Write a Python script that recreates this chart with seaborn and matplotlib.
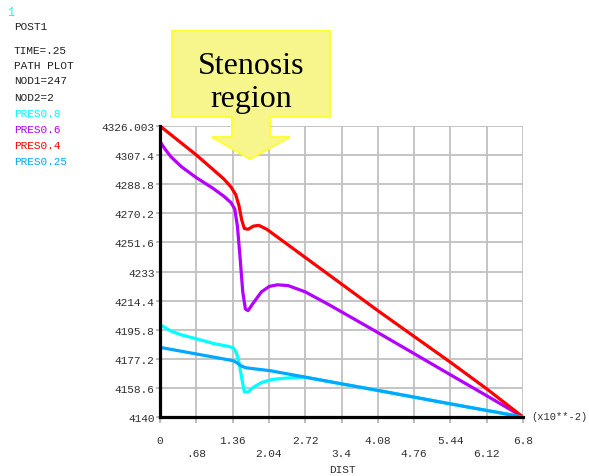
import numpy as np
import pandas as pd
import matplotlib
matplotlib.use("Agg")
import matplotlib.pyplot as plt
import seaborn as sns
from matplotlib.patches import Polygon

# ---- data ----
series_names = ["PRES0.8", "PRES0.6", "PRES0.4", "PRES0.25"]
series_colors = ["#00ffff", "#b400ff", "#ff0000", "#00a8ff"]

x_p08 = [0, 0.2, 0.4, 0.68, 1.0, 1.3, 1.38, 1.43, 1.48, 1.53, 1.58, 1.65, 1.75, 1.9, 2.1, 2.4, 2.7, 3.4, 4.08, 4.76, 5.44, 6.12, 6.8]
y_p08 = [4199, 4195, 4192.5, 4190, 4187, 4185, 4184, 4181, 4175, 4165, 4156, 4156, 4159, 4162, 4164, 4165, 4165.5, 4161.2, 4157, 4152.7, 4148.4, 4144.2, 4140]

x_p06 = [0, 0.1, 0.2, 0.4, 0.68, 1.0, 1.2, 1.33, 1.4, 1.45, 1.5, 1.55, 1.6, 1.65, 1.75, 1.9, 2.05, 2.2, 2.4, 2.72, 3.18, 4.08, 5.44, 6.12, 6.8]
y_p06 = [4316, 4311, 4306.5, 4300, 4293, 4286, 4281, 4277, 4273, 4262, 4242, 4220, 4209, 4208, 4213, 4220, 4223.5, 4224.5, 4224, 4220, 4211.5, 4194, 4167, 4153.6, 4140]

x_p04 = [0, 0.68, 1.0, 1.2, 1.33, 1.42, 1.48, 1.53, 1.58, 1.65, 1.75, 1.85, 2.0, 3.18, 4.08, 5.44, 6.12, 6.8]
y_p04 = [4326, 4307.5, 4298, 4292, 4287, 4282, 4275, 4266, 4260.5, 4260, 4262, 4262.5, 4260, 4230.5, 4208, 4175, 4158, 4140]

x_p025 = [0, 0.68, 1.37, 1.45, 1.5, 1.6, 2.06, 2.72, 3.4, 4.08, 4.76, 5.44, 6.12, 6.8]
y_p025 = [4184.5, 4180.3, 4176, 4174.5, 4173, 4171.5, 4169.6, 4165.5, 4161.2, 4157, 4152.7, 4148.4, 4144.2, 4140]

xticks = [0, 0.68, 1.36, 2.04, 2.72, 3.4, 4.08, 4.76, 5.44, 6.12, 6.8]
xtick_labels = ["0", ".68", "1.36", "2.04", "2.72", "3.4", "4.08", "4.76", "5.44", "6.12", "6.8"]
yticks = [4140, 4158.6, 4177.2, 4195.8, 4214.4, 4233, 4251.6, 4270.2, 4288.8, 4307.4, 4326.003]
ytick_labels = ["4140", "4158.6", "4177.2", "4195.8", "4214.4", "4233", "4251.6", "4270.2", "4288.8", "4307.4", "4326.003"]

header_lines = ["POST1", "TIME=.25", "PATH PLOT", "NOD1=247", "NOD2=2"]

# ---- build table ----
frames = []
for name, xs, ys in zip(series_names, [x_p08, x_p06, x_p04, x_p025], [y_p08, y_p06, y_p04, y_p025]):
    frames.append(pd.DataFrame({"DIST": xs, "PRES": ys, "series": name}))
df = pd.concat(frames, ignore_index=True)

sns.set_style("white")
plt.rcParams["font.family"] = ["Liberation Mono", "DejaVu Sans Mono"]

W, H = 589, 477
fig = plt.figure(figsize=(W / 100, H / 100), dpi=100)
ax = fig.add_axes([160 / W, 1 - 418 / H, (523 - 160) / W, (418 - 127) / H])

grid_c = "#c0c0c0"
for xv in xticks:
    ax.axvline(xv, color=grid_c, lw=1.3, zorder=0)
for yv in yticks:
    ax.axhline(yv, color=grid_c, lw=1.3, zorder=0)

sns.lineplot(data=df, x="DIST", y="PRES", hue="series", hue_order=series_names,
             palette=series_colors, sort=False, estimator=None, lw=2.3,
             legend=False, ax=ax, zorder=3)

ax.set_xlim(0, 6.8)
ax.set_ylim(4140, 4326.003)
ax.set_xticks(xticks)
ax.set_xticklabels([lab if i % 2 == 0 else "\n" + lab for i, lab in enumerate(xtick_labels)],
                   linespacing=1.35)
ax.set_yticks(yticks)
ax.set_yticklabels(ytick_labels)
ax.set_xlabel("")
ax.set_ylabel("")
for s in ["top", "right"]:
    ax.spines[s].set_visible(False)
for s in ["left", "bottom"]:
    ax.spines[s].set_color("black")
    ax.spines[s].set_linewidth(2.3)
    ax.spines[s].set_zorder(4)
ax.tick_params(axis="x", length=4.5, width=1.2, color="#b0b0b0", pad=8.5,
               labelsize=8, labelcolor="#303030", bottom=True)
ax.tick_params(axis="y", length=3, width=1.2, color="#b0b0b0", pad=1,
               labelsize=8, labelcolor="#303030", left=True)
ax.set_facecolor("white")

# axis title and multiplier
fig.text(342 / W, 1 - 470 / H, "DIST", ha="center", va="center", fontsize=8, color="#303030")
fig.text(531 / W, 1 - 417 / H, "(x10**-2)", ha="left", va="center", fontsize=7.5, color="#303030")

# header text block
fig.text(7 / W, 1 - 13 / H, "1", ha="left", va="center", fontsize=8.5, color="#00ffff")
header_y = [27.5, 51.5, 66.5, 81.5, 98]
for txt, yy in zip(header_lines, header_y):
    fig.text(14 / W, 1 - yy / H, txt, ha="left", va="center", fontsize=8, color="#202020")
legend_y = [114, 130, 146, 162]
for name, col, yy in zip(series_names, series_colors, legend_y):
    fig.text(14 / W, 1 - yy / H, name, ha="left", va="center", fontsize=8, color=col)

# stenosis callout
pts_px = [(172, 32), (330, 32), (330, 118), (270, 118), (270, 138), (290, 138), (250, 160),
          (212, 138), (232, 138), (232, 118), (172, 118)]
pts = [(px / W, 1 - py / H) for px, py in pts_px]
fig.add_artist(Polygon(pts, closed=True, transform=fig.transFigure, facecolor="#f6f68c",
                       edgecolor="#ffff30", lw=1.4, zorder=10))
fig.text(251 / W, 1 - 83 / H, "Stenosis\nregion", ha="center", va="center",
         fontsize=23, family="Liberation Serif", linespacing=1.2, color="black", zorder=11)

fig.savefig("out.png", dpi=100)
